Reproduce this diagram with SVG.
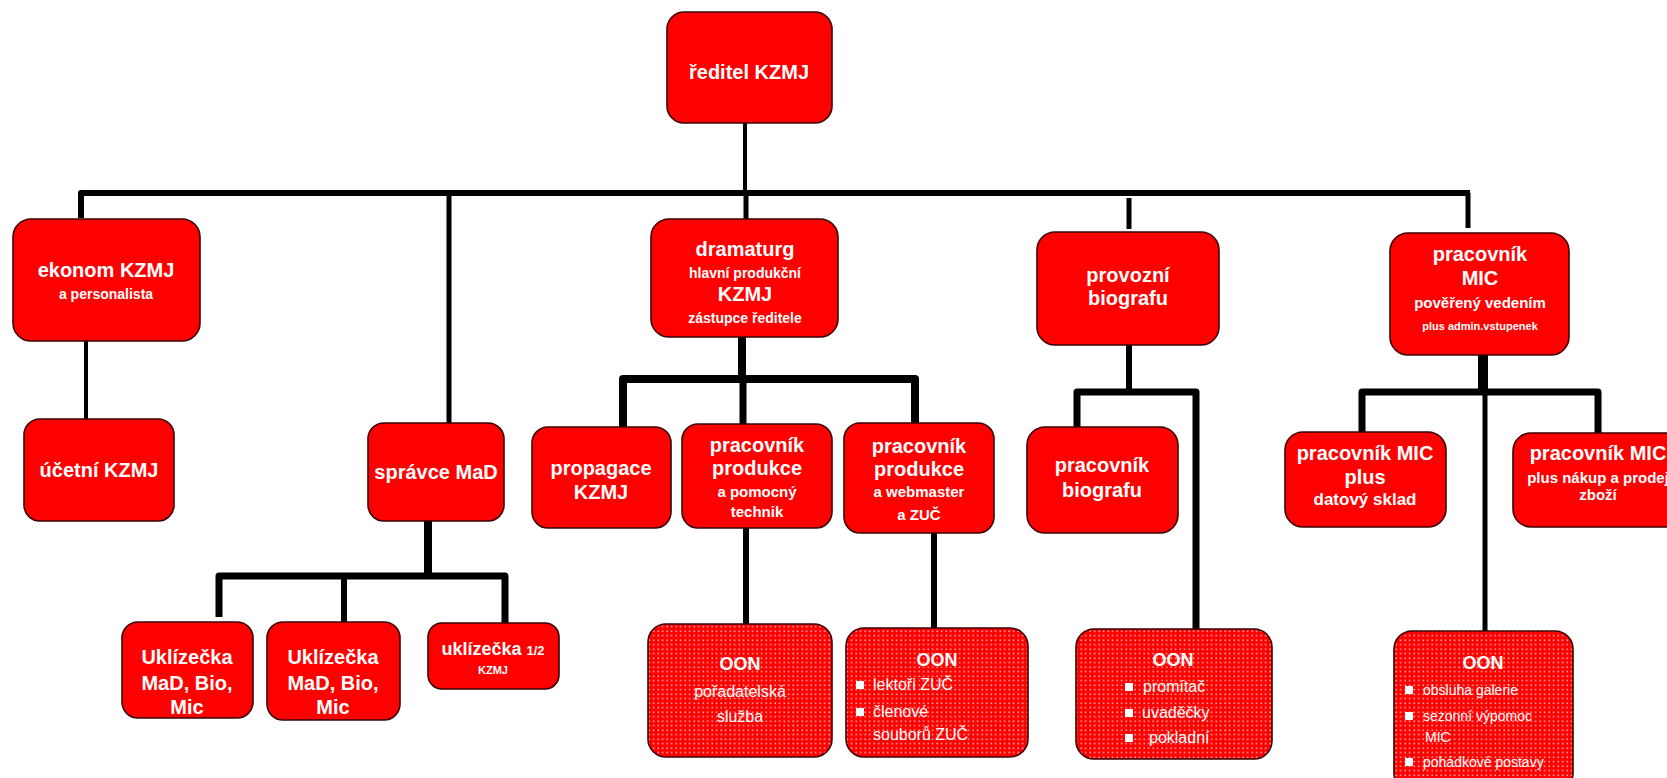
<svg xmlns="http://www.w3.org/2000/svg" width="1667" height="778" viewBox="0 0 1667 778">
<defs>
<pattern id="dots" width="4.5" height="4.5" patternUnits="userSpaceOnUse">
<rect width="4.5" height="4.5" fill="#ff0000"/>
<rect x="0.5" y="0.5" width="1.4" height="1.4" fill="#ffffff" opacity="0.85"/>
</pattern>
</defs>
<style>
.box{fill:#ff0000;stroke:#3a0000;stroke-width:1.6}
.oon{fill:url(#dots);stroke:#3a0000;stroke-width:1.6}
text{font-family:"Liberation Sans Narrow","Liberation Sans",Arial,sans-serif;font-stretch:condensed;fill:#ffffff;text-anchor:middle}
.b{font-weight:bold;font-size:20px}
.m{font-weight:bold;font-size:15px}
.s{font-weight:bold;font-size:14px}
.xs{font-weight:bold;font-size:11px}
.o{font-size:16px}
.l{text-anchor:start}
.bul{fill:#ffffff}
.c path{fill:none;stroke:#000000;stroke-linejoin:round}
</style>
<g class="c" id="connectors">
<path d="M745 123 V193" stroke-width="4"/>
<path d="M81 218 V193 H1470" stroke-width="6"/>
<path d="M449 193 V423" stroke-width="5"/>
<path d="M746 193 V219" stroke-width="5"/>
<path d="M1129 198 V229" stroke-width="5"/>
<path d="M1468 193 V228" stroke-width="5"/>
<path d="M86 341 V419" stroke-width="4"/>
<path d="M742 337 V380" stroke-width="8"/>
<path d="M623 427 V379 H915 V423" stroke-width="8"/>
<path d="M743 379 V424" stroke-width="7"/>
<path d="M746 528 V624" stroke-width="6"/>
<path d="M934 533 V628" stroke-width="6"/>
<path d="M428 521 V576" stroke-width="8"/>
<path d="M219 617 V576 H505 V623" stroke-width="7"/>
<path d="M344 576 V622" stroke-width="6"/>
<path d="M1129 345 V392" stroke-width="6"/>
<path d="M1077 432 V392 H1196 V632" stroke-width="7"/>
<path d="M1483 355 V392" stroke-width="10"/>
<path d="M1362 433 V392 H1598 V436" stroke-width="7"/>
<path d="M1485 392 V632" stroke-width="5"/>
</g>
<g id="reditel">
<rect class="box" x="667" y="12" width="165" height="111" rx="17"/>
<text class="b" x="749" y="79">ředitel KZMJ</text>
</g>
<g id="ekonom">
<rect class="box" x="13" y="219" width="187" height="122" rx="18"/>
<text class="b" x="106" y="277">ekonom KZMJ</text>
<text class="s" x="106" y="299">a personalista</text>
</g>
<g id="ucetni">
<rect class="box" x="24" y="419" width="150" height="102" rx="16"/>
<text class="b" x="99" y="477">účetní KZMJ</text>
</g>
<g id="spravce">
<rect class="box" x="368" y="423" width="136" height="98" rx="16"/>
<text class="b" x="436" y="479">správce MaD</text>
</g>
<g id="dramaturg">
<rect class="box" x="651" y="219" width="187" height="118" rx="18"/>
<text class="b" x="745" y="256">dramaturg</text>
<text class="s" x="745" y="278">hlavní produkční</text>
<text class="b" x="745" y="301">KZMJ</text>
<text class="s" x="745" y="323">zástupce ředitele</text>
</g>
<g id="provozni">
<rect class="box" x="1037" y="232" width="182" height="113" rx="18"/>
<text class="b" x="1128" y="282">provozní</text>
<text class="b" x="1128" y="305">biografu</text>
</g>
<g id="mic">
<rect class="box" x="1390" y="233" width="179" height="122" rx="18"/>
<text class="b" x="1480" y="261">pracovník</text>
<text class="b" x="1480" y="285">MIC</text>
<text class="m" x="1480" y="308">pověřený vedením</text>
<text class="xs" x="1480" y="330">plus admin.vstupenek</text>
</g>
<g id="propagace">
<rect class="box" x="532" y="427" width="139" height="101" rx="16"/>
<text class="b" x="601" y="475">propagace</text>
<text class="b" x="601" y="499">KZMJ</text>
</g>
<g id="produkce1">
<rect class="box" x="682" y="424" width="150" height="104" rx="16"/>
<text class="b" x="757" y="452">pracovník</text>
<text class="b" x="757" y="475">produkce</text>
<text class="m" x="757" y="497">a pomocný</text>
<text class="m" x="757" y="517">technik</text>
</g>
<g id="produkce2">
<rect class="box" x="844" y="423" width="150" height="110" rx="16"/>
<text class="b" x="919" y="453">pracovník</text>
<text class="b" x="919" y="476">produkce</text>
<text class="m" x="919" y="497">a webmaster</text>
<text class="m" x="919" y="520">a ZUČ</text>
</g>
<g id="biograf">
<rect class="box" x="1027" y="427" width="151" height="106" rx="18"/>
<text class="b" x="1102" y="472">pracovník</text>
<text class="b" x="1102" y="497">biografu</text>
</g>
<g id="mic1">
<rect class="box" x="1285" y="432" width="161" height="95" rx="18"/>
<text class="b" x="1365" y="460">pracovník MIC</text>
<text class="b" x="1365" y="484">plus</text>
<text class="m" x="1365" y="505" style="font-size:17px">datový sklad</text>
</g>
<g id="mic2">
<rect class="box" x="1513" y="433" width="170" height="94" rx="18"/>
<text class="b" x="1598" y="460">pracovník MIC</text>
<text class="m" x="1598" y="483">plus nákup a prodej</text>
<text class="m" x="1598" y="500">zboží</text>
</g>
<g id="uklizecka1">
<rect class="box" x="122" y="622" width="131" height="96" rx="16"/>
<text class="b" x="187" y="664">Uklízečka</text>
<text class="b" x="187" y="690">MaD, Bio,</text>
<text class="b" x="187" y="714">Mic</text>
</g>
<g id="uklizecka2">
<rect class="box" x="267" y="622" width="133" height="98" rx="16"/>
<text class="b" x="333" y="664">Uklízečka</text>
<text class="b" x="333" y="690">MaD, Bio,</text>
<text class="b" x="333" y="714">Mic</text>
</g>
<g id="uklizecka3">
<rect class="box" x="428" y="623" width="131" height="66" rx="14"/>
<text class="b" x="493" y="655" style="font-size:18px">uklízečka <tspan style="font-size:13px">1/2</tspan></text>
<text class="xs" x="493" y="674">KZMJ</text>
</g>
<g id="oon1">
<rect class="oon" x="648" y="624" width="184" height="133" rx="18"/>
<text class="b" x="740" y="670" style="font-size:18px">OON</text>
<text class="o" x="740" y="697">pořadatelská</text>
<text class="o" x="740" y="722">služba</text>
</g>
<g id="oon2">
<rect class="oon" x="846" y="628" width="182" height="129" rx="18"/>
<text class="b" x="937" y="666" style="font-size:18px">OON</text>
<rect class="bul" x="856" y="681" width="8" height="8"/>
<text class="o l" x="873" y="690">lektoři ZUČ</text>
<rect class="bul" x="856" y="708" width="8" height="8"/>
<text class="o l" x="873" y="717">členové</text>
<text class="o l" x="873" y="740">souborů ZUČ</text>
</g>
<g id="oon3">
<rect class="oon" x="1076" y="629" width="196" height="130" rx="18"/>
<text class="b" x="1173" y="666" style="font-size:18px">OON</text>
<rect class="bul" x="1125" y="683" width="8" height="8"/>
<text class="o l" x="1143" y="692">promítač</text>
<rect class="bul" x="1125" y="709" width="8" height="8"/>
<text class="o l" x="1142" y="718">uvaděčky</text>
<rect class="bul" x="1125" y="734" width="8" height="8"/>
<text class="o l" x="1149" y="743">pokladní</text>
</g>
<g id="oon4">
<rect class="oon" x="1394" y="631" width="179" height="160" rx="18"/>
<text class="b" x="1483" y="669" style="font-size:18px">OON</text>
<rect class="bul" x="1405" y="686" width="8" height="8"/>
<text class="o l" x="1423" y="695" style="font-size:14px">obsluha galerie</text>
<rect class="bul" x="1405" y="712" width="8" height="8"/>
<text class="o l" x="1423" y="721" style="font-size:14px">sezonní výpomoc</text>
<text class="o l" x="1425" y="742" style="font-size:14px">MIC</text>
<rect class="bul" x="1405" y="758" width="8" height="8"/>
<text class="o l" x="1423" y="767" style="font-size:14px">pohádkové postavy</text>
</g>
</svg>
